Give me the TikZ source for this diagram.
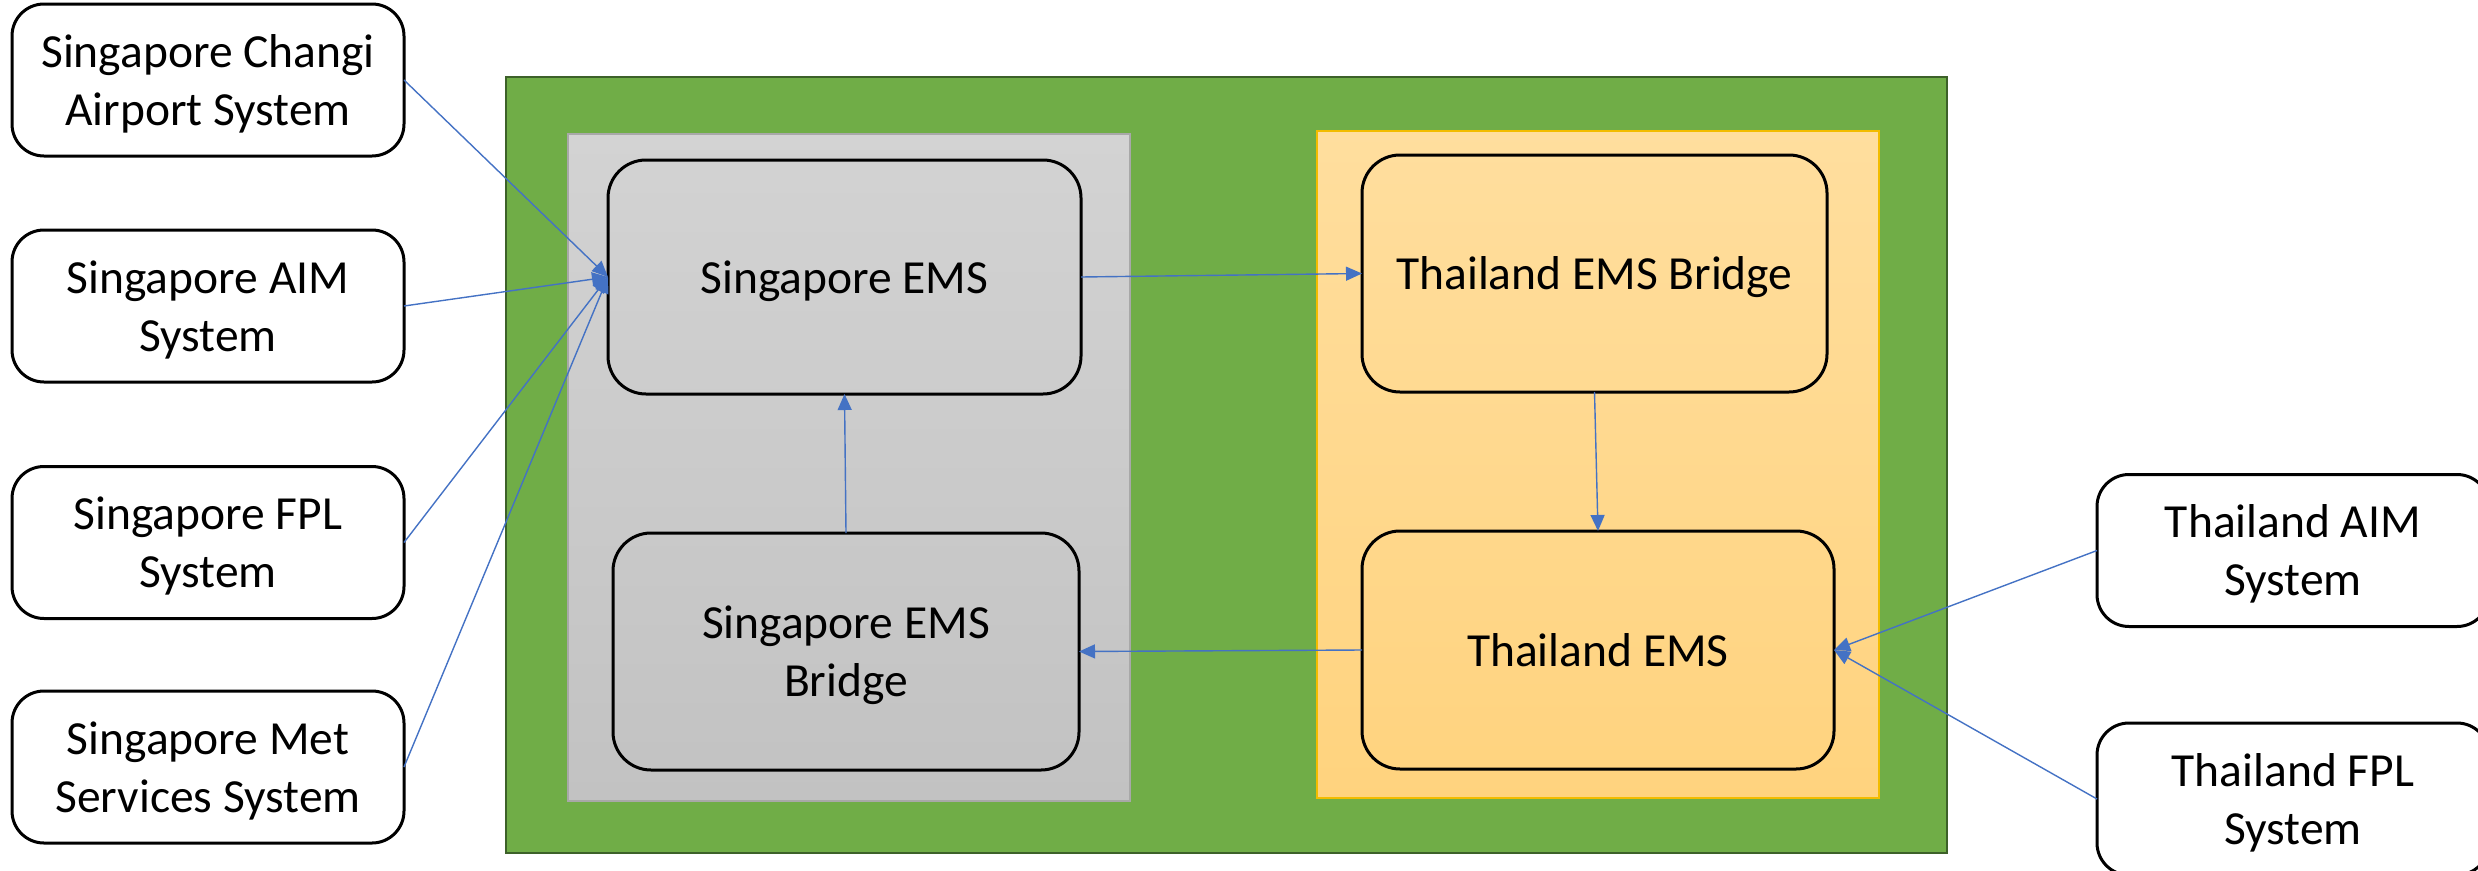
\documentclass[tikz,border=0pt]{standalone}
\usepackage{fontspec}
\setmainfont{Carlito}
\usetikzlibrary{arrows.meta}

\definecolor{outergreen}{HTML}{70AD47}
\definecolor{outergreenline}{HTML}{3D6129}
\definecolor{greytop}{HTML}{D3D3D3}
\definecolor{greybottom}{HTML}{C2C2C2}
\definecolor{greyline}{HTML}{A8A8A8}
\definecolor{ambertop}{HTML}{FFDE9E}
\definecolor{amberbottom}{HTML}{FFD37E}
\definecolor{amberline}{HTML}{F2BC00}
\definecolor{linkblue}{HTML}{4472C4}

\begin{document}
\begin{tikzpicture}[
    x=1pt, y=-1pt,
    labelfont/.style={font=\fontsize{47.5}{58}\selectfont},
    % fixed text box sizes, so every label sits on the same line grid
    oneline/.style={text height=45pt, text depth=13pt},
    twoline/.style={text height=103pt, text depth=13pt},
    sysbox/.style={labelfont, twoline, draw=black, line width=3pt, rounded corners=32pt,
        fill=white, align=center, inner sep=0pt, outer sep=0pt,
        minimum width=392pt, minimum height=152pt},
    emsbox/.style={labelfont, draw=black, line width=3pt, rounded corners=38pt,
        align=center, inner sep=0pt, outer sep=0pt},
    link/.style={draw=linkblue, line width=1.4pt,
        -{Triangle[length=16pt,width=14pt]}}
]
\useasboundingbox (0,0) rectangle (2478,870);
\clip (0,0) rectangle (2478,870);

% outer green frame
\draw[fill=outergreen, draw=outergreenline, line width=2.2pt] (506,77) rectangle (1947,853);

% Singapore panel
\shade[top color=greytop, bottom color=greybottom] (568,134) rectangle (1130,801);
\draw[greyline, line width=2pt] (568,134) rectangle (1130,801);

% Thailand panel
\shade[top color=ambertop, bottom color=amberbottom] (1317,131) rectangle (1879,798);
\draw[amberline, line width=2pt] (1317,131) rectangle (1879,798);

% external systems, Singapore side
\node[sysbox] (changi) at (208,80)    {Singapore Changi\\Airport System};
\node[sysbox] (sgaim)  at (208,306)   {Singapore AIM\\System};
\node[sysbox] (sgfpl)  at (208,542.5) {Singapore FPL\\System};
\node[sysbox] (sgmet)  at (208,767)   {Singapore Met\\Services System};

% external systems, Thailand side
\node[sysbox] (thaim) at (2293,550.5) {Thailand AIM\\System};
\node[sysbox] (thfpl) at (2293,799)   {Thailand FPL\\System};

% EMS nodes
\node[emsbox, oneline, minimum width=473pt, minimum height=234pt] (sgems)    at (844.5,277)    {Singapore EMS};
\node[emsbox, twoline, minimum width=466pt, minimum height=237pt] (sgbridge) at (846,651.5)    {Singapore EMS\\Bridge};
\node[emsbox, oneline, minimum width=465pt, minimum height=237pt] (thbridge) at (1594.5,273.5) {Thailand EMS Bridge};
\node[emsbox, oneline, minimum width=472pt, minimum height=238pt] (thems)    at (1598,650)     {Thailand EMS};

% flows
\draw[link] (changi.east) -- (sgems.west);
\draw[link] (sgaim.east)  -- (sgems.west);
\draw[link] (sgfpl.east)  -- (sgems.west);
\draw[link] (sgmet.east)  -- (sgems.west);

\draw[link] (sgems.east)     -- (thbridge.west);
\draw[link] (thbridge.south) -- (thems.north);
\draw[link] (thems.west)     -- (sgbridge.east);
\draw[link] (sgbridge.north) -- (sgems.south);

\draw[link] (thaim.west) -- (thems.east);
\draw[link] (thfpl.west) -- (thems.east);
\end{tikzpicture}
\end{document}
